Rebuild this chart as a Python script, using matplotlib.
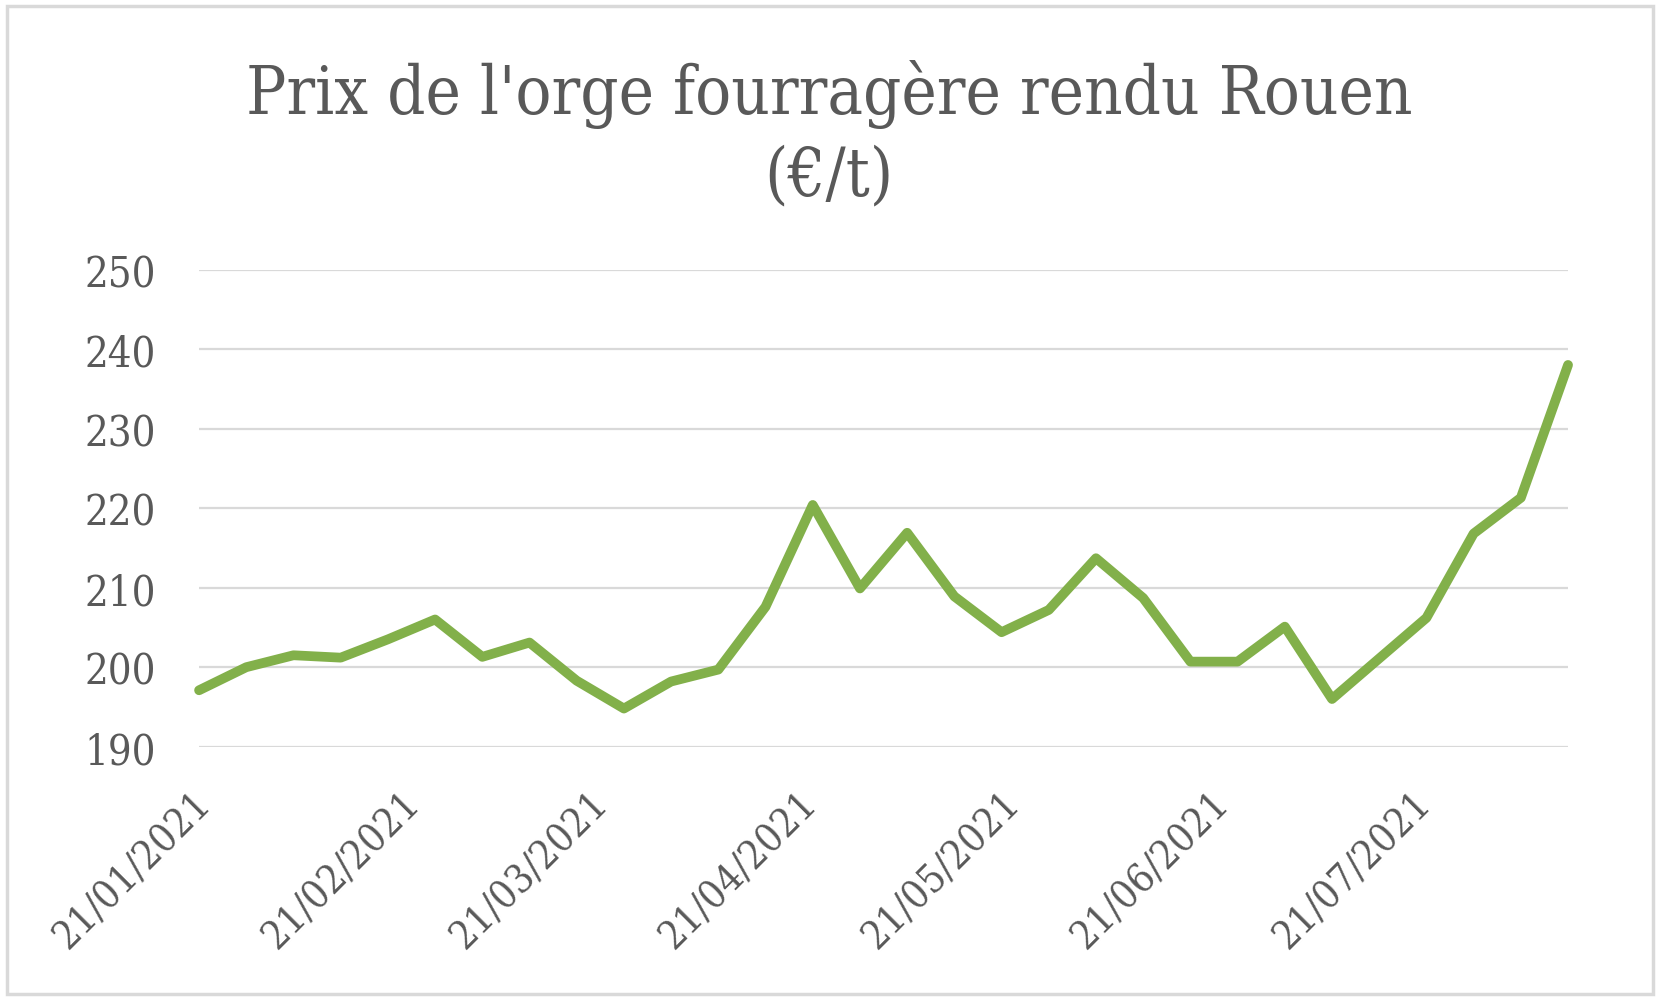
import matplotlib
matplotlib.use("Agg")
import matplotlib.pyplot as plt
import matplotlib.dates as mdates
import matplotlib.transforms as mtransforms
import pandas as pd
from matplotlib.patches import Rectangle

# données hebdomadaires (€/t)
dates = pd.date_range("2021-01-21", periods=30, freq="7D")
prix = [197.1, 200.0, 201.5, 201.2, 203.5, 206.0, 201.3, 203.1, 198.3, 194.8,
        198.2, 199.7, 207.6, 220.4, 209.9, 216.9, 208.9, 204.4, 207.2, 213.7,
        208.7, 200.7, 200.7, 205.1, 196.0, 201.1, 206.2, 216.8, 221.3, 238.0]
yticks = [190, 200, 210, 220, 230, 240, 250]
xticks = pd.to_datetime(["2021-01-21", "2021-02-21", "2021-03-21", "2021-04-21",
                         "2021-05-21", "2021-06-21", "2021-07-21"])

gris = "#595959"
vert = "#82B04A"
plt.rcParams['font.family'] = ['DejaVu Serif']
plt.rcParams['font.stretch'] = 'condensed'

fig = plt.figure(figsize=(16.63, 10.03), dpi=100)
fig.patches.append(Rectangle((0.004, 0.008), 0.99, 0.985, transform=fig.transFigure,
                             fill=False, edgecolor="#D9D9D9", linewidth=2.5))

ax = fig.add_axes([0.1197, 0.2545, 0.8232, 0.4758])
ax.plot(dates, prix, color=vert, linewidth=7, clip_on=False,
        solid_capstyle="round", solid_joinstyle="round", zorder=3)

ax.set_ylim(190, 250)
ax.set_yticks(yticks)
ax.set_xlim(dates[0], dates[-1])
ax.set_xticks(xticks)
ax.xaxis.set_major_formatter(mdates.DateFormatter("%d/%m/%Y"))
ax.grid(axis="y", color="#D9D9D9", linewidth=1.6)
ax.set_axisbelow(True)
for s in ax.spines.values():
    s.set_visible(False)
ax.tick_params(axis="both", length=0, colors=gris)
ax.tick_params(axis="y", pad=31, labelsize=30)
ax.tick_params(axis="x", pad=27, labelsize=28.5)
decal = mtransforms.ScaledTranslation(-7 / 100, 0, fig.dpi_scale_trans)
for lab in ax.get_xticklabels():
    lab.set_rotation(45)
    lab.set_ha("right")
    lab.set_va("top")
    lab.set_rotation_mode("anchor")
    lab.set_transform(lab.get_transform() + decal)

fig.text(0.4985, 0.866, "Prix de l'orge fourragère rendu Rouen\n(€/t)",
         ha="center", va="center", color=gris, fontsize=48, linespacing=1.3)

fig.savefig("out.png", dpi=100)
